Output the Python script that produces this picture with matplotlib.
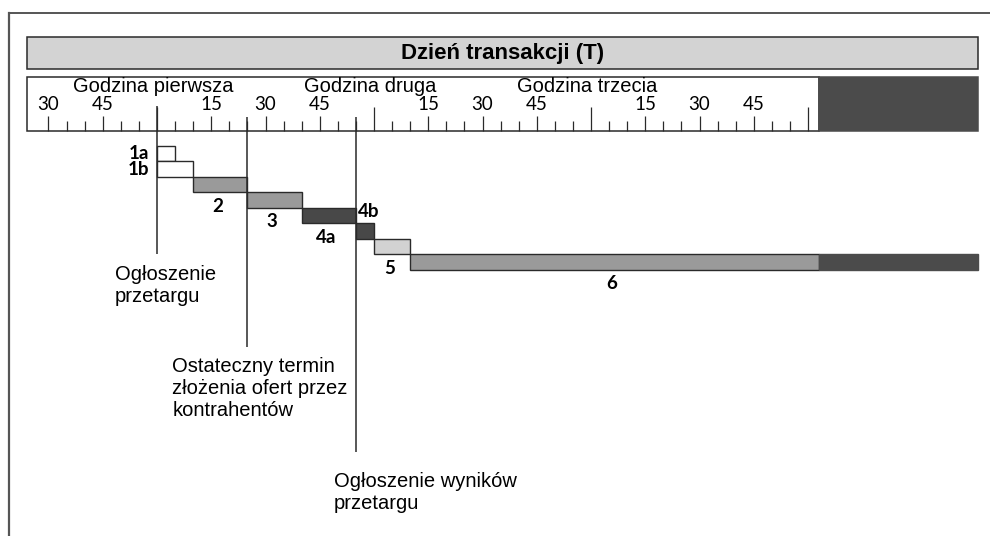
import matplotlib
matplotlib.use("Agg")
import matplotlib.pyplot as plt
from matplotlib.lines import Line2D

# czas w minutach liczony od początku pierwszej godziny
phase_labels = ["1a", "1b", "2", "3", "4a", "4b", "5", "6"]
phase_start = [0, 0, 10, 25, 40, 55, 60, 70]
phase_end = [5, 10, 25, 40, 55, 60, 70, 183]
phase_colors = ["white", "white", "#9a9a9a", "#9a9a9a", "#484848",
                "#484848", "#d2d2d2", "#9a9a9a"]

axis_start = -36
open_end = 183
day_end = 227

hour_names = ["Godzina pierwsza", "Godzina druga", "Godzina trzecia"]
hour_starts = [0, 60, 120]
minute_ticks = list(range(-30, 185, 5))

event_texts = ["Ogłoszenie\nprzetargu",
               "Ostateczny termin\nzłożenia ofert przez\nkontrahentów",
               "Ogłoszenie wyników\nprzetargu"]
event_times = [0, 25, 55]

title = "Dzień transakcji (T)"

# layout (piksele w pionie, minuty w poziomie)
px_per_min = 3.617
x0_px = 157
row_top, row_h = 145.7, 15.5
event_line_top = [106, 117, 117]
event_line_bottom = [254, 347, 452]
event_text_dx = [-11.6, -20.8, -6.1]
event_text_top = [265, 357, 472]
dark = "#4b4b4b"
edge = "#2a2a2a"
num_font = "Lato"
txt_font = "Liberation Sans"

fig = plt.figure(figsize=(9.9, 5.36), dpi=100)
ax = fig.add_axes([0, 0, 1, 1])
ax.set_xlim(-x0_px / px_per_min, (990 - x0_px) / px_per_min)
ax.set_ylim(536, 0)
ax.axis("off")

# ramka
fig.add_artist(Line2D([9 / 990, 1], [1 - 13 / 536] * 2, color="#555555", lw=1.4))
fig.add_artist(Line2D([9 / 990] * 2, [0, 1 - 13 / 536], color="#555555", lw=1.6))

# pasek tytułowy
ax.barh(52.8, day_end - axis_start, left=axis_start, height=32.3,
        color="#d3d3d3", edgecolor=edge, linewidth=1.1)
ax.text((axis_start + day_end) / 2, 53, title, ha="center", va="center",
        fontsize=16, fontweight="bold", family=txt_font)

# oś czasu
ax.barh(104, open_end - axis_start, left=axis_start, height=53.5,
        color="white", edgecolor=edge, linewidth=1.1)
ax.barh(104, day_end - open_end, left=open_end, height=53.5,
        color=dark, edgecolor=dark, linewidth=1.1)
for t in minute_ticks:
    if t % 60 == 0:
        h = 24
    elif t % 15 == 0:
        h = 15
    else:
        h = 10
    ax.vlines(t, 130.5 - h, 130.5, color=edge, lw=0.9)
    if t % 15 == 0 and t % 60 != 0:
        ax.text(t, 105, str(t % 60), ha="center", va="center",
                fontsize=13.5, family=num_font)
for name, t in zip(hour_names, hour_starts):
    ax.text(t - 1, 87, name, ha="center", va="center", fontsize=14.5,
            family=txt_font)

# fazy
for i, (lab, s, e, c) in enumerate(zip(phase_labels, phase_start,
                                       phase_end, phase_colors)):
    yc = row_top + row_h * (i + 0.5)
    ax.barh(yc, e - s, left=s, height=row_h, color=c, edgecolor=edge,
            linewidth=1.0, zorder=3)
    if lab in ("1a", "1b"):
        ax.text(s - 2.2, yc + 0.5, lab, ha="right", va="center",
                fontsize=13.5, fontweight="bold", family=num_font)
    elif lab == "4b":
        ax.text(e - 4.4, yc - 19, lab, ha="left", va="center",
                fontsize=13.5, fontweight="bold", family=num_font)
    else:
        ax.text((s + e) / 2 - 0.8, yc + row_h / 2 + 14, lab, ha="center",
                va="center", fontsize=13.5, fontweight="bold",
                family=num_font)
    if lab == "6":
        ax.barh(yc, day_end - e, left=e, height=row_h, color=dark,
                edgecolor=dark, linewidth=1.0, zorder=3)

# zdarzenia
for txt, t, y1, y2, dx, ty in zip(event_texts, event_times, event_line_top,
                                  event_line_bottom, event_text_dx,
                                  event_text_top):
    ax.vlines(t, y1, y2, color=edge, lw=1.1, zorder=4)
    ax.text(t + dx, ty, txt, ha="left", va="top", fontsize=14.5,
            family=txt_font, linespacing=1.2)

fig.savefig("out.png", dpi=100)
